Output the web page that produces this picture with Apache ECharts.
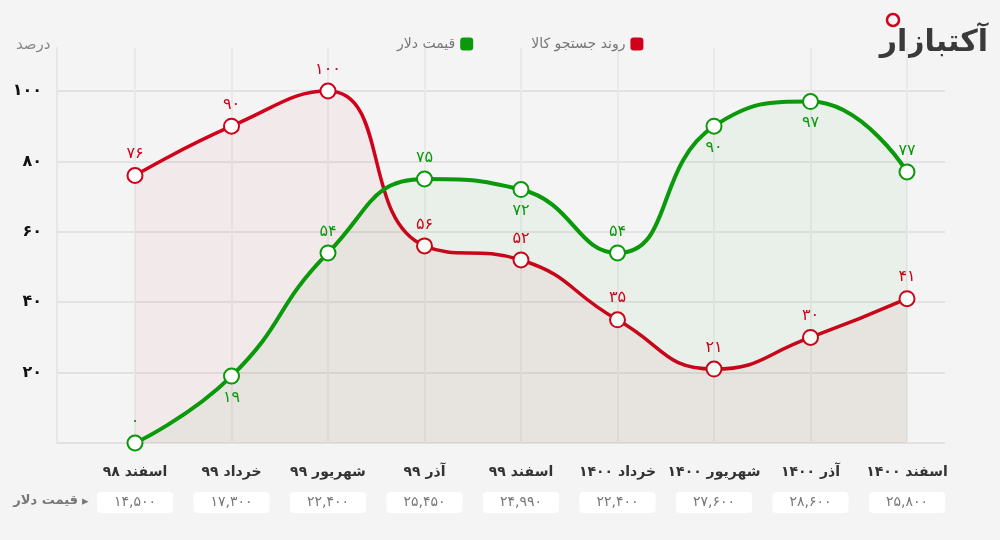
<!DOCTYPE html>
<html>
<head>
<meta charset="utf-8">
<script src="https://cdn.jsdelivr.net/npm/echarts@6/dist/echarts.min.js"></script>
<style>
html,body{margin:0;padding:0;background:#f4f4f4;}
#chart{width:1000px;height:540px;}
</style>
</head>
<body>
<div id="chart"></div>
<script>
// ---- data ----
const categories = ['اسفند ۹۸','خرداد ۹۹','شهریور ۹۹','آذر ۹۹','اسفند ۹۹','خرداد ۱۴۰۰','شهریور ۱۴۰۰','آذر ۱۴۰۰','اسفند ۱۴۰۰'];
const searchTrend = [76, 90, 100, 56, 52, 35, 21, 30, 41];
const dollarPercent = [0, 19, 54, 75, 72, 54, 90, 97, 77];
const dollarPrices = [14500, 17300, 22400, 25450, 24990, 22400, 27600, 28600, 25800];
const yTicks = [20, 40, 60, 80, 100];
const seriesNames = ['روند جستجو کالا', 'قیمت دلار'];

// ---- style ----
const RED = '#d0021b';
const GREEN = '#0a990a';
const FONT = 'DejaVu Sans';
const greenLabelPos = ['top','bottom','top','top','bottom','top','bottom','bottom','top'];
const YMAX = 100 * (443 - 48) / (443 - 91);

const fa = s => String(s).replace(/[0-9]/g, d => '۰۱۲۳۴۵۶۷۸۹'[d]);

const chart = echarts.init(document.getElementById('chart'), null, {renderer: 'canvas'});

const option = {
  backgroundColor: '#f4f4f4',
  animation: false,
  textStyle: {fontFamily: FONT},
  legend: {
    left: 392, top: 32,
    align: 'right',
    itemGap: 58,
    itemWidth: 13, itemHeight: 13,
    icon: 'roundRect',
    textStyle: {color: '#777', fontSize: 14, fontFamily: FONT},
    data: [
      {name: seriesNames[1], itemStyle: {color: GREEN, borderWidth: 0}},
      {name: seriesNames[0], itemStyle: {color: RED, borderWidth: 0}}
    ]
  },
  grid: [
    {left: 57, right: 55, top: 48, bottom: 97},
    {left: 135, right: 93, top: 48, bottom: 97}
  ],
  xAxis: [
    {gridIndex: 0, type: 'category', data: categories, show: false},
    {
      gridIndex: 1, type: 'category', data: categories, boundaryGap: false,
      axisLine: {show: false}, axisTick: {show: false},
      splitLine: {show: true, lineStyle: {color: '#e9e9e9', width: 2}},
      axisLabel: {interval: 0, margin: 22, color: '#333', fontSize: 14, fontWeight: 'bold', fontFamily: FONT}
    },
    {
      gridIndex: 1, type: 'category', position: 'bottom', offset: 41,
      data: dollarPrices.map(v => fa(v.toLocaleString('en-US'))),
      boundaryGap: false,
      axisLine: {show: false}, axisTick: {show: false},
      axisLabel: {
        interval: 0, margin: 8, color: '#777', fontSize: 14, fontFamily: FONT,
        backgroundColor: '#fff', borderRadius: 4,
        width: 76, height: 21, lineHeight: 21, align: 'center'
      }
    }
  ],
  yAxis: [
    {
      gridIndex: 0, type: 'value', min: 0, max: YMAX, interval: 20,
      axisLine: {show: true, lineStyle: {color: '#e6e6e6', width: 2}},
      axisTick: {show: false},
      splitLine: {show: true, lineStyle: {color: ['#e2e2e2','#e2e2e2','#e2e2e2','#e2e2e2','#e2e2e2','#e2e2e2','rgba(0,0,0,0)'], width: 2}},
      axisLabel: {
        margin: 15, color: '#111', fontSize: 16, fontWeight: 'bold', fontFamily: FONT,
        formatter: v => yTicks.indexOf(Math.round(v)) >= 0 && Math.abs(v - Math.round(v)) < 1e-6 ? fa(v) : ''
      }
    },
    {gridIndex: 1, type: 'value', min: 0, max: YMAX, show: false}
  ],
  series: [
    {
      name: seriesNames[0], type: 'line', xAxisIndex: 1, yAxisIndex: 1,
      data: searchTrend, smooth: 0.5,
      symbol: 'circle', symbolSize: 15,
      lineStyle: {color: RED, width: 3.5},
      itemStyle: {color: '#fff', borderColor: RED, borderWidth: 2},
      areaStyle: {color: 'rgba(208,2,27,0.06)'},
      label: {show: true, position: 'top', distance: 5, color: RED, fontSize: 16, fontFamily: FONT, formatter: p => fa(p.value)},
      z: 3
    },
    {
      name: seriesNames[1], type: 'line', xAxisIndex: 1, yAxisIndex: 1,
      data: dollarPercent.map((v, i) => ({value: v, label: {position: greenLabelPos[i]}})),
      smooth: 0.5,
      symbol: 'circle', symbolSize: 15,
      lineStyle: {color: GREEN, width: 4},
      itemStyle: {color: '#fff', borderColor: GREEN, borderWidth: 2},
      areaStyle: {color: 'rgba(10,150,10,0.06)'},
      label: {show: true, distance: 5, color: GREEN, fontSize: 16, fontFamily: FONT, formatter: p => fa(p.value)},
      z: 4
    }
  ],
  graphic: [
    {type: 'text', left: 16, top: 38, style: {text: 'درصد', fill: '#888', font: '15px "DejaVu Sans"'}},
    {type: 'text', right: 922, top: 494, style: {text: 'قیمت دلار', fill: '#777', font: 'bold 13px "DejaVu Sans"', textAlign: 'right'}},
    {type: 'text', left: 82, top: 495, style: {text: '▸', fill: '#777', font: '13px "DejaVu Sans"'}},
    {type: 'text', right: 12, top: 28, style: {text: 'آکتبازار', fill: '#3a3a3a', font: 'bold 30px "DejaVu Sans"'}},
    {type: 'circle', shape: {cx: 893, cy: 20, r: 6}, style: {fill: 'none', stroke: RED, lineWidth: 2.5}}
  ]
};
chart.setOption(option);
</script>
</body>
</html>
